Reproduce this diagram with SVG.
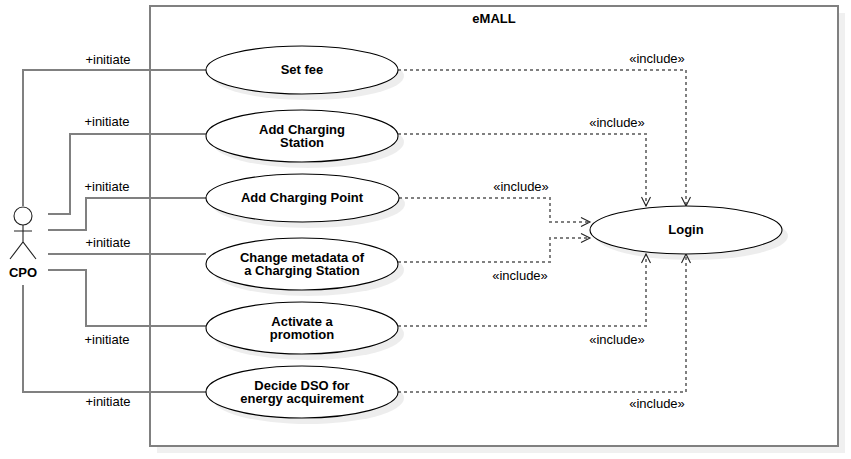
<svg xmlns="http://www.w3.org/2000/svg" width="851" height="459" viewBox="0 0 851 459">
<style>
text{font-family:"Liberation Sans",Arial,sans-serif;font-size:13px;fill:#000}
.b{font-weight:bold;text-anchor:middle}
.l{text-anchor:middle}
.c{fill:none;stroke:#808080;stroke-width:2}
.d{fill:none;stroke:#808080;stroke-width:2;stroke-dasharray:3 3}
.u{fill:#fff;stroke:#000;stroke-width:1.1}
.s{fill:#000;fill-opacity:.07;stroke:none}
.a{fill:none;stroke:#222;stroke-width:1.1}
</style>
<defs>
<marker id="o" markerUnits="userSpaceOnUse" markerWidth="12" markerHeight="12" refX="10" refY="6" orient="auto" viewBox="0 0 12 12"><path d="M1 1.500L10 6L1 10.500" fill="none" stroke="#222" stroke-width="1.1"/></marker>
</defs>
<g id="system">
<rect x="157" y="13" width="688" height="440" fill="#f0f0f0"/>
<rect x="150" y="6" width="688" height="440" fill="#fff" stroke="#808080" stroke-width="2"/>
<text class="b" x="494" y="23">eMALL</text>
</g>
<g id="shadows">
<ellipse class="s" cx="308" cy="76" rx="96" ry="24"/>
<ellipse class="s" cx="308" cy="142" rx="96" ry="26"/>
<ellipse class="s" cx="308.500" cy="204" rx="96.500" ry="24"/>
<ellipse class="s" cx="308" cy="270" rx="96" ry="26"/>
<ellipse class="s" cx="308" cy="334" rx="96" ry="26"/>
<ellipse class="s" cx="308" cy="398" rx="96" ry="26"/>
<ellipse class="s" cx="692" cy="236" rx="96" ry="24"/>
</g>
<g id="connectors">
<path class="c" d="M23 206V70H206"/>
<path class="c" d="M48 214H70V134H206"/>
<path class="c" d="M48 230H86V198H206"/>
<path class="c" d="M48 254H206"/>
<path class="c" d="M48 270H86V326H206"/>
<path class="c" d="M23 285V392H206"/>
<path class="d" marker-end="url(#o)" d="M398 70H686V206"/>
<path class="d" marker-end="url(#o)" d="M398 134H646V206"/>
<path class="d" marker-end="url(#o)" d="M399 198H550V222H590"/>
<path class="d" marker-end="url(#o)" d="M398 262H550V238H590"/>
<path class="d" marker-end="url(#o)" d="M398 326H646V254"/>
<path class="d" marker-end="url(#o)" d="M398 392H686V254"/>
<text class="l" x="108" y="64">+initiate</text>
<text class="l" x="107" y="126">+initiate</text>
<text class="l" x="107" y="191">+initiate</text>
<text class="l" x="108" y="247">+initiate</text>
<text class="l" x="107" y="344">+initiate</text>
<text class="l" x="108" y="406">+initiate</text>
<text class="l" x="657" y="63">«include»</text>
<text class="l" x="617" y="127">«include»</text>
<text class="l" x="521" y="191">«include»</text>
<text class="l" x="520" y="280">«include»</text>
<text class="l" x="617" y="344">«include»</text>
<text class="l" x="657" y="408">«include»</text>
</g>
<g id="cpo">
<circle class="a" cx="23" cy="216" r="9"/>
<path class="a" d="M23 225V242M14 231H32M10 259L23 242L36 259"/>
<text class="b" x="23" y="277">CPO</text>
</g>
<g id="set-fee"><ellipse class="u" cx="302" cy="70" rx="96" ry="24"/><text class="b" x="302" y="74">Set fee</text></g>
<g id="add-station"><ellipse class="u" cx="302" cy="136" rx="96" ry="26"/><text class="b" x="302" y="134">Add Charging</text><text class="b" x="302" y="147">Station</text></g>
<g id="add-point"><ellipse class="u" cx="302.500" cy="198" rx="96.500" ry="24"/><text class="b" x="302" y="202">Add Charging Point</text></g>
<g id="change-metadata"><ellipse class="u" cx="302" cy="264" rx="96" ry="26"/><text class="b" x="302" y="262">Change metadata of</text><text class="b" x="302" y="275">a Charging Station</text></g>
<g id="activate-promotion"><ellipse class="u" cx="302" cy="328" rx="96" ry="26"/><text class="b" x="302" y="326">Activate a</text><text class="b" x="302" y="339">promotion</text></g>
<g id="decide-dso"><ellipse class="u" cx="302" cy="392" rx="96" ry="26"/><text class="b" x="302" y="390">Decide DSO for</text><text class="b" x="302" y="403">energy acquirement</text></g>
<g id="login"><ellipse class="u" cx="686" cy="230" rx="96" ry="24"/><text class="b" x="686" y="234">Login</text></g>
</svg>
